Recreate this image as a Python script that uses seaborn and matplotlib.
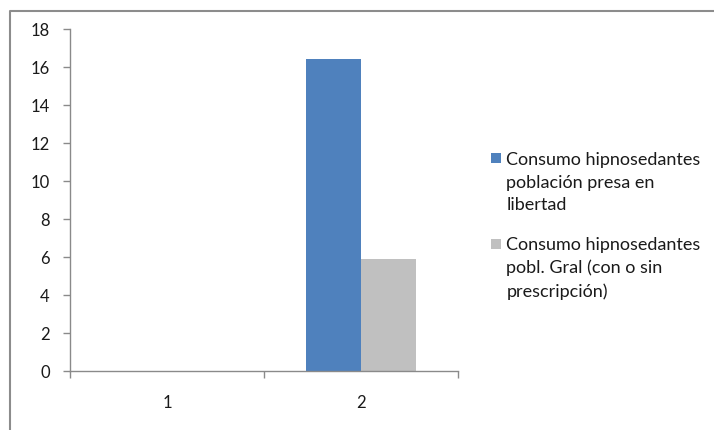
import matplotlib
matplotlib.use("Agg")
import matplotlib.pyplot as plt
from matplotlib.lines import Line2D
from matplotlib.patches import Patch, Rectangle
from matplotlib.legend_handler import HandlerPatch
import pandas as pd
import seaborn as sns

# Data
categories = ["1", "2"]
series_names = [
    "Consumo hipnosedantes\npoblación presa en\nlibertad",
    "Consumo hipnosedantes\npobl. Gral (con o sin\nprescripción)",
]
presa_values = [0, 16.4]
general_values = [0, 5.9]
y_ticks = [0, 2, 4, 6, 8, 10, 12, 14, 16, 18]
colors = ["#4F81BD", "#C0C0C0"]

df = pd.DataFrame({
    "categoria": categories * 2,
    "serie": [series_names[0]] * len(categories) + [series_names[1]] * len(categories),
    "valor": presa_values + general_values,
})

sns.set_theme(style="white")
plt.rcParams["font.family"] = ["Lato", "DejaVu Sans"]

fig = plt.figure(figsize=(7.14, 4.30), dpi=100)
ax = fig.add_axes([70 / 714, 1 - 371 / 430, (458 - 70) / 714, (371 - 29) / 430])

sns.barplot(
    data=df, x="categoria", y="valor", hue="serie", order=categories,
    hue_order=series_names, palette=colors, width=0.567, saturation=1,
    edgecolor="none", linewidth=0, ax=ax, legend=False,
)

axis_color = "#8a8a8a"
ax.set_xlim(-0.5, 1.5)
ax.set_ylim(0, 18)
ax.set_yticks(y_ticks)
ax.set_yticklabels([str(t) for t in y_ticks])
ax.set_xlabel("")
ax.set_ylabel("")

for side in ["top", "right"]:
    ax.spines[side].set_visible(False)
for side in ["left", "bottom"]:
    ax.spines[side].set_color(axis_color)
    ax.spines[side].set_linewidth(1.0)

# Category labels centered, tick marks at category boundaries
ax.set_xticks([0, 1])
ax.set_xticklabels(categories)
ax.set_xticks([-0.5, 0.5, 1.5], minor=True)
ax.tick_params(axis="x", which="major", length=0, pad=17, labelsize=12, labelcolor="#1a1a1a")
ax.tick_params(axis="x", which="minor", length=5, width=1.0, color=axis_color, direction="out", bottom=True)
ax.tick_params(axis="y", length=5, width=1.0, color=axis_color, direction="out", left=True,
               pad=9.5, labelsize=12, labelcolor="#1a1a1a")

LEGEND_FS = 13
LINE_SPACING = 1.51
LINE_PITCH_PT = 16.9  # distance between consecutive label lines, in points


class FirstLineSquare(HandlerPatch):
    """Square key aligned with the first line of a multi-line label."""

    def create_artists(self, legend, orig_handle, xdescent, ydescent, width, height,
                       fontsize, trans):
        size = 7.2
        n_lines = 3
        y0 = (-ydescent + (height - size) / 2
              + LINE_PITCH_PT * (n_lines - 1) / 2 + 0.7)
        rect = Rectangle((-xdescent + (width - size) / 2, y0), size, size,
                         facecolor=orig_handle.get_facecolor(), edgecolor="none",
                         transform=trans)
        return [rect]


handles = [Patch(facecolor=c, edgecolor="none") for c in colors]
leg = fig.legend(
    handles, series_names, loc="upper left", bbox_to_anchor=(491 / 714, 1 - 152 / 430),
    frameon=False, fontsize=LEGEND_FS, handlelength=0.55, handleheight=0.6,
    handletextpad=0.3, labelspacing=1.3, borderpad=0, borderaxespad=0,
    labelcolor="#1a1a1a", handler_map={Patch: FirstLineSquare()},
)
for t in leg.get_texts():
    t.set_linespacing(LINE_SPACING)

# Outer chart frame (left and top edges)
fig.add_artist(Line2D([10 / 714, 10 / 714, 1.0], [0.0, 1 - 11 / 430, 1 - 11 / 430],
                      transform=fig.transFigure, color="#8c8c8c", linewidth=1.5))

fig.savefig("out.png", dpi=100)
